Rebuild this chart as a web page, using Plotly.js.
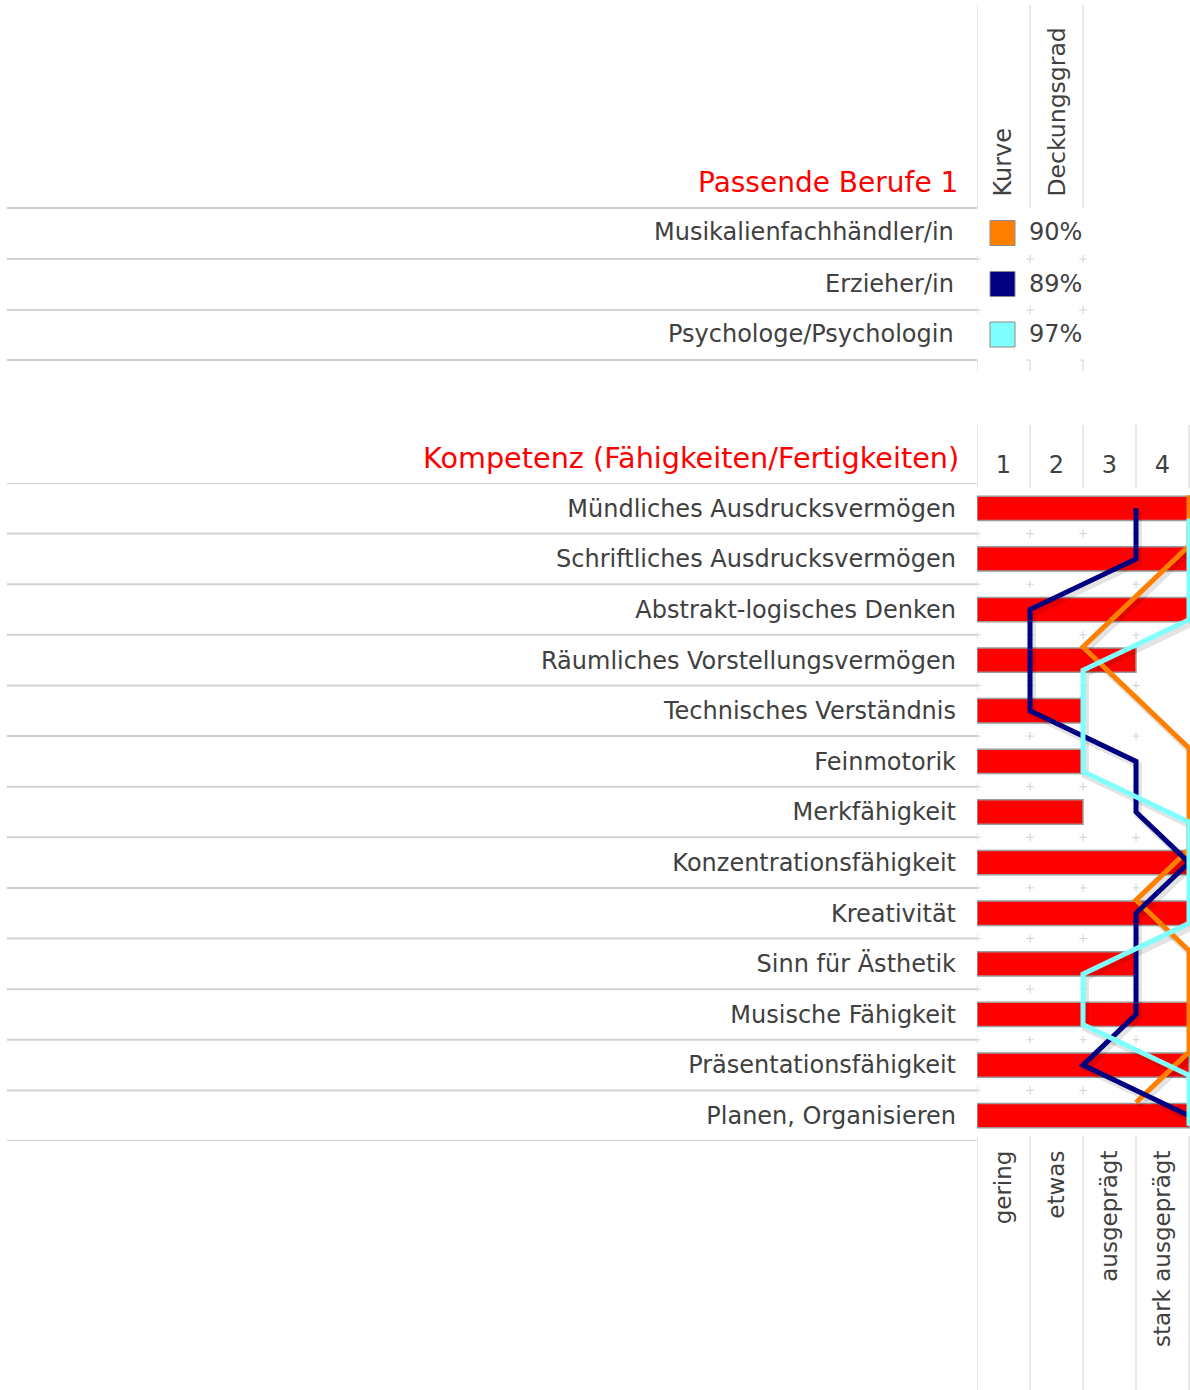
<!DOCTYPE html>
<html>
<head>
<meta charset="utf-8">
<script src="https://cdn.plot.ly/plotly-3.0.1.min.js"></script>
<style>html,body{margin:0;padding:0;background:#fff;}</style>
</head>
<body>
<div id="chart" style="width:1190px;height:1390px;"></div>
<script>
// ---------- data ----------
const professions = ["Musikalienfachhändler/in", "Erzieher/in", "Psychologe/Psychologin"];
const coverage = [90, 89, 97];
const professionColors = ["#FF8000", "#000080", "#80FFFF"];

const competences = [
  "Mündliches Ausdrucksvermögen",
  "Schriftliches Ausdrucksvermögen",
  "Abstrakt-logisches Denken",
  "Räumliches Vorstellungsvermögen",
  "Technisches Verständnis",
  "Feinmotorik",
  "Merkfähigkeit",
  "Konzentrationsfähigkeit",
  "Kreativität",
  "Sinn für Ästhetik",
  "Musische Fähigkeit",
  "Präsentationsfähigkeit",
  "Planen, Organisieren"
];
const ownLevel   = [4, 4, 4, 3, 2, 2, 2, 4, 4, 3, 4, 4, 4];
const curveMusik = [4, 4, 3, 2, 3, 4, 4, 4, 3, 4, 4, 4, 3];
const curveErz   = [3, 3, 1, 1, 1, 3, 3, 4, 3, 3, 3, 2, 4];
const curvePsy   = [4, 4, 4, 2, 2, 2, 4, 4, 4, 2, 2, 4, 4];
const levelNumbers = ["1", "2", "3", "4"];
const levelNames = ["gering", "etwas", "ausgeprägt", "stark ausgeprägt"];

// ---------- layout helpers ----------
const W = 1190, H = 1390;
const P = x => x / W;          // pixel x -> paper
const Q = y => 1 - y / H;      // pixel y -> paper
const FONT = "DejaVu Sans, Verdana, sans-serif";
const TXT = "#404040";
const GRID = "#d2d2d2";
const LBL = 24;

const idx = competences.map((_, i) => i);
const levelPos = levelNumbers.map((_, i) => i + 0.5);
const curves = [curveMusik, curveErz, curvePsy];
const curveShift = [-0.26, 0, 0.2];

const traces = [];
traces.push({
  type: "bar", orientation: "h",
  x: ownLevel, y: idx, width: 0.48,
  marker: {color: "#FF0000", line: {color: "#9a9a9a", width: 1.5}},
  hoverinfo: "skip", showlegend: false
});
// soft drop shadows under the curves
curves.forEach((c, k) => {
  traces.push({
    type: "scatter", mode: "lines",
    x: c.map(v => v + 0.045), y: idx.map(i => i + curveShift[k] + 0.07),
    line: {color: "rgba(0,0,0,0.11)", width: 7},
    hoverinfo: "skip", showlegend: false
  });
});
curves.forEach((c, k) => {
  traces.push({
    type: "scatter", mode: "lines",
    x: c, y: idx.map(i => i + curveShift[k]),
    line: {color: professionColors[k], width: 5},
    hoverinfo: "skip", showlegend: false
  });
});
// invisible trace for top axis
traces.push({type: "scatter", mode: "markers", x: [0], y: [0], xaxis: "x2", yaxis: "y",
  marker: {opacity: 0}, hoverinfo: "skip", showlegend: false});

const shapes = [];
const annotations = [];
const line = (o) => shapes.push(Object.assign({type: "line", layer: "below", line: {color: GRID, width: 1}}, o));

// ---- top table (professions) ----
const topRows = [208, 259, 310, 360];
topRows.forEach(y => line({xref: "paper", yref: "paper", x0: P(7), x1: P(977), y0: Q(y), y1: Q(y), line: {color: GRID, width: 2}}));
[0, 1, 2].forEach(c => {
  line({xref: "x", yref: "paper", x0: c, x1: c, y0: Q(5), y1: Q(208)});
  [259, 310].forEach(y => {
    line({xref: "x", yref: "paper", x0: c, x1: c, y0: Q(y - 4), y1: Q(y + 4)});
    line({xref: "x", yref: "paper", x0: c - 0.07, x1: c + 0.07, y0: Q(y), y1: Q(y)});
  });
  line({xref: "x", yref: "paper", x0: c, x1: c, y0: Q(360), y1: Q(371)});
  line({xref: "x", yref: "paper", x0: c - 0.07, x1: c, y0: Q(360), y1: Q(360)});
});
annotations.push({xref: "paper", yref: "paper", x: P(960), y: Q(183), xanchor: "right", yanchor: "middle",
  text: "Passende Berufe 1", showarrow: false, font: {family: FONT, size: 28, color: "#FF0000"}});
annotations.push({xref: "paper", yref: "paper", x: P(1002), y: Q(199), xanchor: "center", yanchor: "bottom",
  text: "Kurve", textangle: -90, showarrow: false, font: {family: FONT, size: LBL, color: TXT}});
annotations.push({xref: "paper", yref: "paper", x: P(1056), y: Q(199), xanchor: "center", yanchor: "bottom",
  text: "Deckungsgrad", textangle: -90, showarrow: false, font: {family: FONT, size: 23.5, color: TXT}});
professions.forEach((name, k) => {
  const yc = (topRows[k] + topRows[k + 1]) / 2;
  annotations.push({xref: "paper", yref: "paper", x: P(956), y: Q(yc - 1), xanchor: "right", yanchor: "middle",
    text: name, showarrow: false, font: {family: FONT, size: LBL, color: TXT}});
  annotations.push({xref: "paper", yref: "paper", x: P(1055), y: Q(yc - 1), xanchor: "center", yanchor: "middle",
    text: coverage[k] + "%", showarrow: false, font: {family: FONT, size: LBL, color: TXT}});
  shapes.push({type: "rect", xref: "paper", yref: "paper", x0: P(990), x1: P(1015), y0: Q(yc - 13), y1: Q(yc + 12),
    fillcolor: professionColors[k], line: {color: "#8a8a8a", width: 1}});
});

// ---- competence section ----
annotations.push({xref: "paper", yref: "paper", x: P(961), y: Q(458), xanchor: "right", yanchor: "middle",
  text: "Kompetenz (Fähigkeiten/Fertigkeiten)", showarrow: false, font: {family: FONT, size: 28.7, color: "#FF0000"}});
for (let b = 0; b <= competences.length; b++) {
  line({xref: "paper", yref: "y", x0: P(7), x1: P(977), y0: b - 0.5, y1: b - 0.5, line: {color: GRID, width: 2}});
}
[0, 1, 2, 3, 4].forEach(c => {
  line({xref: "x", yref: "paper", x0: c, x1: c, y0: Q(425), y1: Q(488)});
  line({xref: "x", yref: "paper", x0: c, x1: c, y0: Q(1136), y1: 0});
});
[0, 1, 2, 3].forEach(c => {
  for (let b = 1; b < competences.length; b++) {
    line({xref: "x", yref: "y", x0: c, x1: c, y0: b - 0.58, y1: b - 0.42});
    line({xref: "x", yref: "y", x0: c - 0.07, x1: c + 0.07, y0: b - 0.5, y1: b - 0.5});
  }
});

const layout = {
  width: W, height: H,
  margin: {l: 0, r: 0, t: 0, b: 0},
  paper_bgcolor: "#fff", plot_bgcolor: "rgba(0,0,0,0)",
  showlegend: false,
  xaxis: {
    domain: [P(977), 1], range: [0, 4 * (1190 - 977) / (1189 - 977)],
    tickmode: "array", tickvals: levelPos, ticktext: levelNames, tickangle: -90,
    tickfont: {family: FONT, size: 23, color: TXT}, ticks: "", ticklabelstandoff: 4,
    showgrid: false, zeroline: false, showline: false, fixedrange: true
  },
  xaxis2: {
    overlaying: "x", matches: "x", side: "top", anchor: "y",
    tickmode: "array", tickvals: levelPos, ticktext: levelNumbers, tickangle: 0,
    tickfont: {family: FONT, size: LBL, color: TXT}, ticks: "", ticklabelstandoff: 4,
    showgrid: false, zeroline: false, showline: false
  },
  yaxis: {
    domain: [Q(1141), Q(483)], range: [competences.length - 0.5, -0.5],
    tickmode: "array", tickvals: idx, ticktext: competences,
    tickfont: {family: FONT, size: LBL, color: TXT}, ticks: "", ticklabelstandoff: 20,
    showgrid: false, zeroline: false, showline: false, fixedrange: true
  },
  shapes: shapes,
  annotations: annotations
};

Plotly.newPlot("chart", traces, layout, {displayModeBar: false, staticPlot: true});
</script>
</body>
</html>
